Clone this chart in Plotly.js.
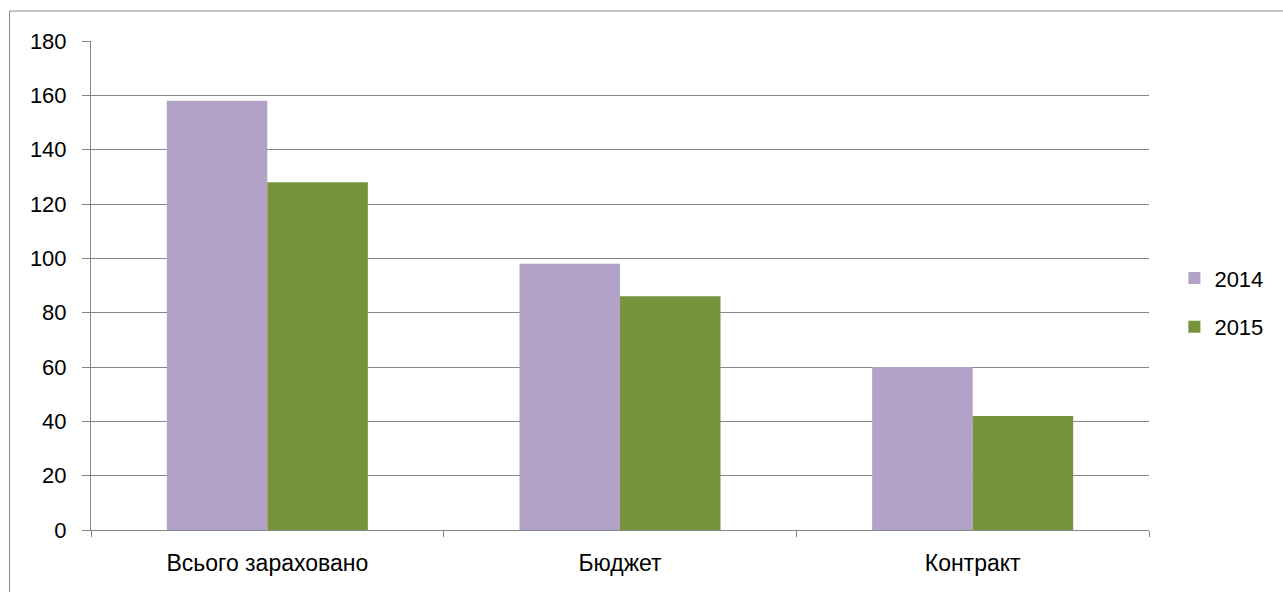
<!DOCTYPE html>
<html>
<head>
<meta charset="utf-8">
<script src="https://cdn.plot.ly/plotly-3.0.1.min.js"></script>
<style>html,body{margin:0;padding:0;background:#fff;}#chart{width:1283px;height:592px;}</style>
</head>
<body>
<div id="chart"></div>
<script>
const categories = ["Всього зараховано", "Бюджет", "Контракт"];
const series2014 = [158, 98, 60];
const series2015 = [128, 86, 42];
const yTicks = [0, 20, 40, 60, 80, 100, 120, 140, 160, 180];

const fam = "'Liberation Sans', Arial, sans-serif";
const font = {family: fam, size: 22, color: "#000"};
const xFont = {family: fam, size: 23, color: "#000"};

const data = [
  {type: "bar", name: "2014", x: categories, y: series2014, marker: {color: "#B3A2C7"}, legend: "legend"},
  {type: "bar", name: "2015", x: categories, y: series2015, marker: {color: "#77933C"}, legend: "legend2"}
];

const layout = {
  width: 1283, height: 592,
  margin: {l: 91, r: 134, t: 41, b: 62, autoexpand: false},
  paper_bgcolor: "#fff", plot_bgcolor: "#fff",
  font: font,
  barmode: "group", bargap: 0.43, bargroupgap: 0,
  xaxis: {
    type: "category", showgrid: false, showline: true, linecolor: "#868686", linewidth: 1,
    ticks: "outside", tickson: "boundaries", ticklen: 6, tickcolor: "#868686",
    tickfont: xFont, ticklabelstandoff: 12, fixedrange: true
  },
  yaxis: {
    range: [0, 180], tickvals: yTicks, showgrid: true, gridcolor: "#868686", gridwidth: 1,
    showline: true, linecolor: "#868686", linewidth: 1, zeroline: false,
    ticks: "outside", ticklen: 8, tickcolor: "#868686", tickfont: font, ticklabelstandoff: 11
  },
  legend: {x: 1.024, xanchor: "left", y: 0.515, yanchor: "middle", font: font, bgcolor: "rgba(0,0,0,0)"},
  legend2: {x: 1.024, xanchor: "left", y: 0.415, yanchor: "middle", font: font, bgcolor: "rgba(0,0,0,0)"},
  showlegend: true,
  shapes: [{type: "rect", xref: "paper", yref: "paper", x0: -0.0770, x1: 1.2, y0: -0.2, y1: 1.0613,
    line: {color: "#898989", width: 1}, fillcolor: "rgba(0,0,0,0)", layer: "below"}]
};

Plotly.newPlot("chart", data, layout, {displayModeBar: false, staticPlot: true});
</script>
</body>
</html>
